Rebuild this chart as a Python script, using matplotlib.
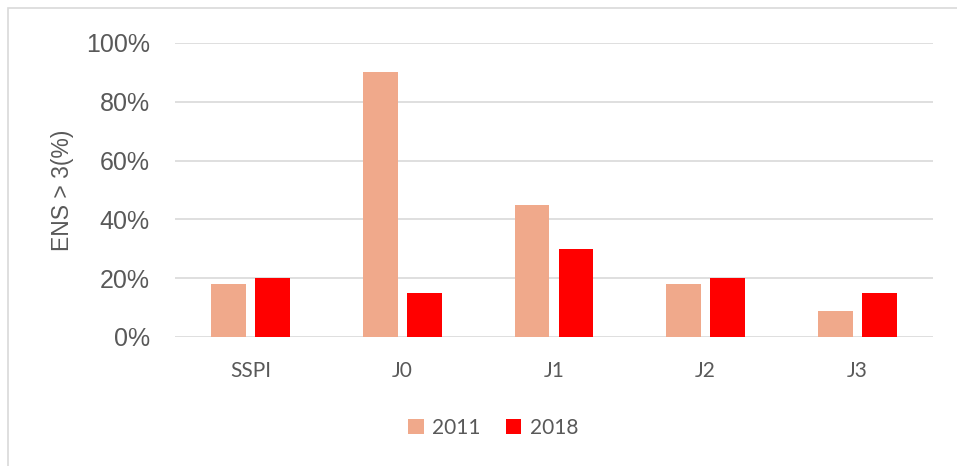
import matplotlib
matplotlib.use("Agg")
import matplotlib.pyplot as plt
import numpy as np
from matplotlib.patches import Rectangle, Patch

categories = ["SSPI", "J0", "J1", "J2", "J3"]
series_names = ["2011", "2018"]
values_2011 = [18, 90, 45, 18, 9]
values_2018 = [20, 15, 30, 20, 15]
y_ticks = [0, 20, 40, 60, 80, 100]
y_tick_labels = ["0%", "20%", "40%", "60%", "80%", "100%"]

c2011 = "#F0A98B"
c2018 = "#FF0000"
grey_text = "#595959"
grid_col = "#D9D9D9"

W, H = 957, 466
fig = plt.figure(figsize=(W / 100, H / 100), dpi=100)
fig.patch.set_facecolor("white")

# outer chart frame
fig.add_artist(Rectangle((8 / W, -0.1), 1.2, 1 - 8 / H + 0.1, transform=fig.transFigure,
                         fill=False, edgecolor=grid_col, linewidth=1.2))

ax = fig.add_axes([175 / W, 129 / H, (933 - 175) / W, (337 - 43) / H])
x = np.arange(len(categories))
bw = 0.23
gap = 0.06
ax.bar(x - (bw + gap) / 2, values_2011, bw, color=c2011, zorder=3, label=series_names[0])
ax.bar(x + (bw + gap) / 2, values_2018, bw, color=c2018, zorder=3, label=series_names[1])

ax.set_xlim(-0.5, len(categories) - 0.5)
ax.set_ylim(0, 100)
ax.set_yticks(y_ticks)
ax.set_yticklabels(y_tick_labels, fontfamily="Liberation Sans", fontsize=18, color=grey_text)
ax.set_xticks(x)
ax.set_xticklabels(categories, fontfamily="Lato", fontsize=15, color=grey_text)
ax.tick_params(axis="both", length=0)
ax.tick_params(axis="y", pad=18)
ax.tick_params(axis="x", pad=17)
ax.yaxis.grid(True, color=grid_col, linewidth=1.2, zorder=0)
ax.set_axisbelow(True)
for s in ax.spines.values():
    s.set_visible(False)

ax.set_ylabel("ENS > 3(%)", fontfamily="Liberation Sans", fontsize=16.5, color=grey_text)
ax.yaxis.set_label_coords(-(175 - 74) / (933 - 175), 0.5)

handles = [Patch(facecolor=c2011, edgecolor="none"), Patch(facecolor=c2018, edgecolor="none")]
fig.legend(handles, series_names, loc="center", bbox_to_anchor=(493 / W, 1 - 428 / H),
           ncol=2, frameon=False, handlelength=0.75, handleheight=0.75, handletextpad=0.4,
           columnspacing=1.2, prop={"family": "Lato", "size": 15}, labelcolor=grey_text)

fig.savefig("out.png", dpi=100, facecolor="white")
